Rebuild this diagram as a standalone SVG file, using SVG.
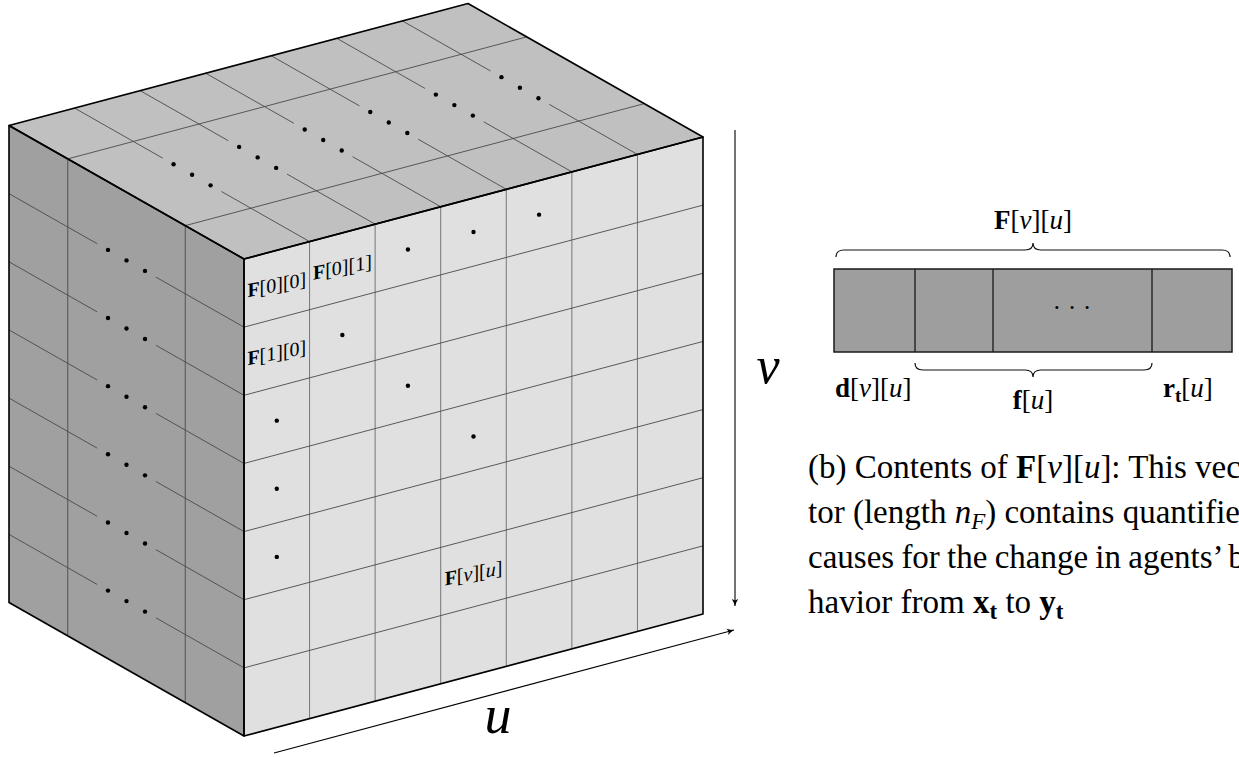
<svg xmlns="http://www.w3.org/2000/svg" xmlns:xlink="http://www.w3.org/1999/xlink" width="1239" height="757" viewBox="0 0 1239 757">
<style>
.grid{stroke:#4a4a4a;stroke-width:0.9;fill:none}
.gridv{stroke:#6a6a6a;stroke-width:0.9;fill:none}
.edge{stroke:#000;stroke-width:1.6;fill:none;stroke-linejoin:round}
.dot{fill:#000}
.t{font-family:"Liberation Serif","Times New Roman",serif;fill:#000}
.b{font-weight:bold}
.i{font-style:italic}
.arrow{stroke:#000;stroke-width:1.1;fill:none}
</style>
<defs>
<marker id="ah" markerWidth="10" markerHeight="10" refX="9" refY="5" orient="auto" markerUnits="userSpaceOnUse">
<path d="M2,1.8 Q6,4.2 9,5 Q6,5.8 2,8.2 L3.6,5 Z" fill="#000"/>
</marker>
<g id="brk">
<path class="grid" d="M0,0 L-88.125,-50.06 M-146.875,-83.44 L-235,-133.5"/>
<circle class="dot" cx="-98.99" cy="-56.24" r="2.2"/>
<circle class="dot" cx="-117.5" cy="-66.75" r="2.2"/>
<circle class="dot" cx="-136.01" cy="-77.26" r="2.2"/>
</g>
</defs>
<rect width="1239" height="757" fill="#fff"/>

<g id="cube">
<g id="top-face">
<polygon points="244,259 703,137 468,3.5 9,125.5" fill="#c0c0c0"/>
<path class="grid" d="M185.25,225.63 L644.25,103.63 M67.75,158.88 L526.75,36.88"/>
<use xlink:href="#brk" x="309.571" y="241.571"/>
<use xlink:href="#brk" x="375.143" y="224.143"/>
<use xlink:href="#brk" x="440.714" y="206.714"/>
<use xlink:href="#brk" x="506.286" y="189.286"/>
<use xlink:href="#brk" x="571.857" y="171.857"/>
<use xlink:href="#brk" x="637.429" y="154.429"/>
</g>
<g id="left-face">
<polygon points="9,125.5 244,259 244,736 9,602.5" fill="#a0a0a0"/>
<path class="grid" d="M185.25,225.63 L185.25,702.63 M67.75,158.88 L67.75,635.88"/>
<use xlink:href="#brk" x="244" y="327.143"/>
<use xlink:href="#brk" x="244" y="395.286"/>
<use xlink:href="#brk" x="244" y="463.429"/>
<use xlink:href="#brk" x="244" y="531.571"/>
<use xlink:href="#brk" x="244" y="599.714"/>
<use xlink:href="#brk" x="244" y="667.857"/>
</g>
<g id="front-face">
<polygon points="244,259 703,137 703,614 244,736" fill="#e0e0e0"/>
<path class="gridv" d="M309.57,241.57 V718.57 M375.14,224.14 V701.14 M440.71,206.71 V683.71 M506.29,189.29 V666.29 M571.86,171.86 V648.86 M637.43,154.43 V631.43"/>
<path class="grid" d="M244,327.14 L703,205.14 M244,395.29 L703,273.29 M244,463.43 L703,341.43 M244,531.57 L703,409.57 M244,599.71 L703,477.71 M244,667.86 L703,545.86"/>
<circle class="dot" cx="407.93" cy="249.5" r="2.2"/>
<circle class="dot" cx="473.5" cy="232.07" r="2.2"/>
<circle class="dot" cx="539.07" cy="214.64" r="2.2"/>
<circle class="dot" cx="342.36" cy="335.07" r="2.2"/>
<circle class="dot" cx="276.79" cy="420.64" r="2.2"/>
<circle class="dot" cx="407.93" cy="385.8" r="2.2"/>
<circle class="dot" cx="276.79" cy="488.78" r="2.2"/>
<circle class="dot" cx="473.5" cy="436.49" r="2.2"/>
<circle class="dot" cx="276.79" cy="556.92" r="2.2"/>
<g transform="translate(276.8,284.4) skewY(-11)"><text class="t" x="0" y="7" font-size="20" text-anchor="middle"><tspan class="b">F</tspan>[0][0]</text></g>
<g transform="translate(342.4,267.0) skewY(-11)"><text class="t" x="0" y="7" font-size="20" text-anchor="middle"><tspan class="b">F</tspan>[0][1]</text></g>
<g transform="translate(276.8,352.5) skewY(-11)"><text class="t" x="0" y="7" font-size="20" text-anchor="middle"><tspan class="b">F</tspan>[1][0]</text></g>
<g transform="translate(473.5,572.8) skewY(-11)"><text class="t" x="0" y="7" font-size="20" text-anchor="middle"><tspan class="b">F</tspan>[<tspan class="i">v</tspan>][<tspan class="i">u</tspan>]</text></g>
</g>
<g id="cube-edges">
<polygon class="edge" points="244,259 703,137 468,3.5 9,125.5"/>
<polygon class="edge" points="9,125.5 244,259 244,736 9,602.5"/>
<polygon class="edge" points="244,259 703,137 703,614 244,736"/>
</g>
</g>

<g id="connectors">
<line class="arrow" x1="735" y1="130" x2="735" y2="606" marker-end="url(#ah)"/>
<line class="arrow" x1="274" y1="753" x2="734" y2="630" marker-end="url(#ah)"/>
</g>

<g id="axis-labels">
<text class="t i" x="768" y="383" font-size="52" text-anchor="middle">v</text>
<text class="t i" x="498" y="733" font-size="54" text-anchor="middle">u</text>
</g>

<g id="vector">
<rect x="834" y="269" width="398" height="83" fill="#9e9e9e" stroke="#1a1a1a" stroke-width="1.5"/>
<path d="M915,269 V352 M993,269 V352 M1152,269 V352" stroke="#1a1a1a" stroke-width="1.3"/>
<text class="t" x="1072" y="316" font-size="26" text-anchor="middle">· · ·</text>
</g>

<g id="braces" fill="none" stroke="#111" stroke-width="1.2">
<path d="M836,257 Q836,250 844,250 L1025,250 Q1033,250 1033,243 Q1033,250 1041,250 L1222,250 Q1230,250 1230,257"/>
<path d="M915,363 Q915,370 923,370 L1025,370 Q1033,370 1033,377 Q1033,370 1041,370 L1144,370 Q1152,370 1152,363"/>
</g>

<g id="vector-labels">
<text class="t" x="1033" y="229" font-size="27" text-anchor="middle"><tspan class="b">F</tspan>[<tspan class="i">v</tspan>][<tspan class="i">u</tspan>]</text>
<text class="t" x="835" y="397" font-size="27"><tspan class="b">d</tspan>[<tspan class="i">v</tspan>][<tspan class="i">u</tspan>]</text>
<text class="t" x="1033" y="409" font-size="27" text-anchor="middle"><tspan class="b">f</tspan>[<tspan class="i">u</tspan>]</text>
<text class="t" x="1163" y="397" font-size="27"><tspan class="b">r</tspan><tspan class="b" font-size="19" dy="5">t</tspan><tspan dy="-5">[</tspan><tspan class="i">u</tspan>]</text>
</g>

<g id="caption">
<text class="t" x="808" y="478" font-size="33">(b) Contents of <tspan class="b">F</tspan>[<tspan class="i">v</tspan>][<tspan class="i">u</tspan>]:  This vec</text>
<text class="t" x="808" y="523" font-size="33">tor (length <tspan class="i">n</tspan><tspan class="i" font-size="23" dy="6">F</tspan><tspan dy="-6">) contains quantified</tspan></text>
<text class="t" x="808" y="568" font-size="33" word-spacing="-1">causes for the change in agents’ be</text>
<text class="t" x="808" y="613" font-size="33">havior from <tspan class="b">x</tspan><tspan class="b" font-size="23" dy="6">t</tspan><tspan dy="-6"> to </tspan><tspan class="b">y</tspan><tspan class="b" font-size="23" dy="6">t</tspan></text>
</g>
</svg>
